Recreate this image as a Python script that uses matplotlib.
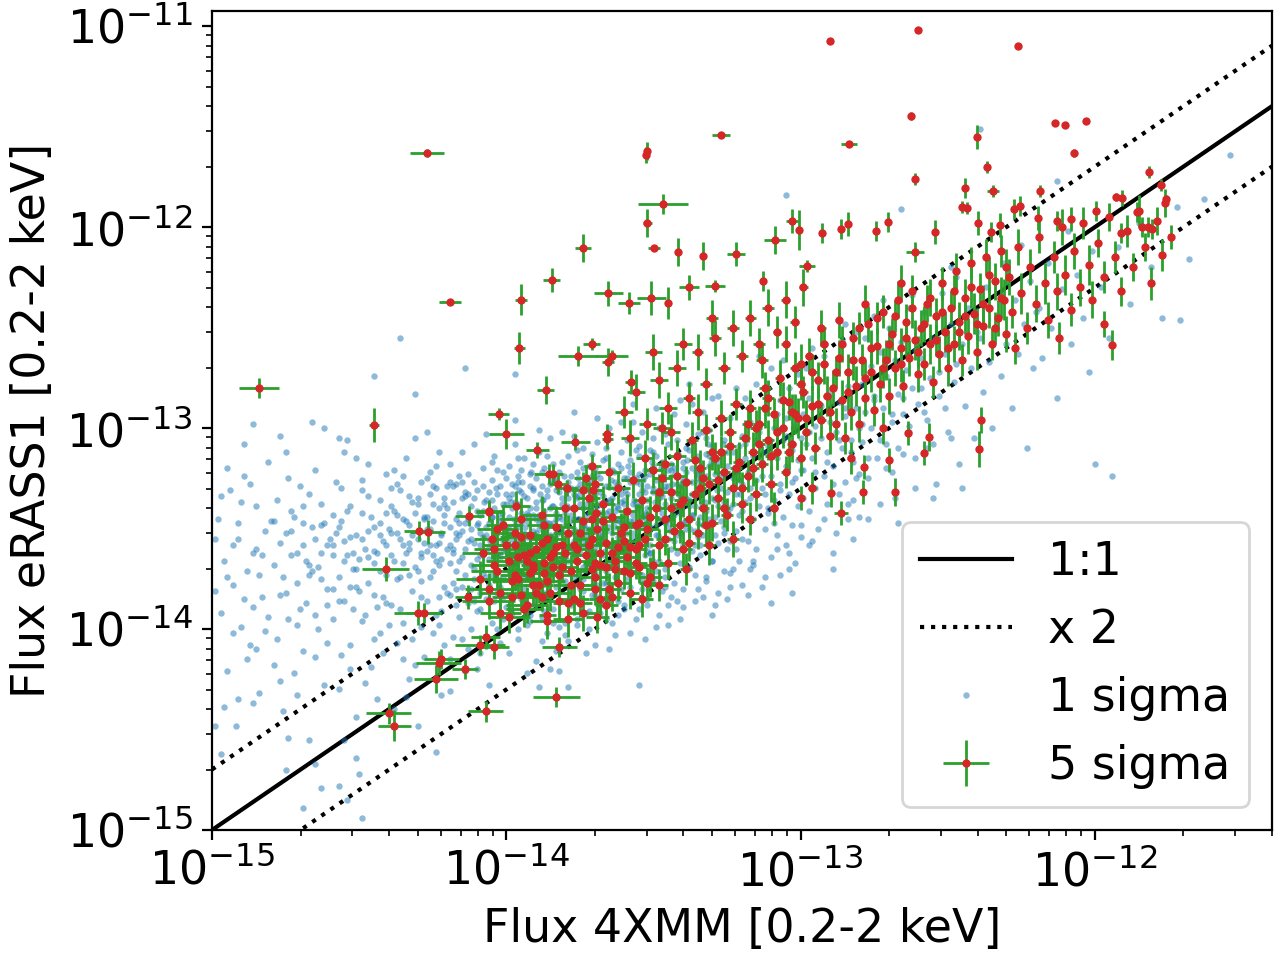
import numpy as np
import matplotlib
matplotlib.use("Agg")
import matplotlib.pyplot as plt

# ---------------- data (log10 flux values) ----------------
# 1 sigma sample: (log10 F_4XMM, log10 F_eRASS1)
blue_pts = [
(-14.98,-13.45),(-14.97,-13.92),(-14.96,-13.66),(-14.95,-14.21),(-14.94,-13.31),(-14.93,-13.78),(-14.92,-14.48),(-14.91,-13.55),(-14.90,-13.99),(-14.89,-13.24),
(-14.88,-13.71),(-14.87,-14.08),(-14.86,-13.62),(-14.85,-13.39),(-14.84,-14.32),(-14.83,-13.84),(-14.82,-13.51),(-14.81,-13.17),(-14.99,-13.81),(-14.97,-14.62),
(-14.93,-13.58),(-14.90,-13.37),(-14.88,-14.15),(-14.86,-13.89),(-14.84,-13.73),(-14.82,-14.01),(-14.80,-13.46),(-14.95,-13.20),(-14.91,-14.35),(-14.85,-13.60),
(-14.79,-13.68),(-14.78,-14.05),(-14.78,-13.36),(-14.77,-13.83),(-14.76,-14.41),(-14.75,-13.52),(-14.75,-13.12),(-14.74,-13.95),(-14.73,-13.63),(-14.72,-14.22),
(-14.72,-13.44),(-14.71,-13.77),(-14.70,-13.29),(-14.69,-14.11),(-14.69,-13.58),(-14.68,-13.87),(-14.67,-14.55),(-14.66,-13.49),(-14.66,-13.71),(-14.65,-13.21),
(-14.64,-14.00),(-14.63,-13.62),(-14.63,-13.38),(-14.62,-14.28),(-14.61,-13.80),(-14.60,-13.55),(-14.77,-13.57),(-14.74,-13.25),(-14.71,-14.33),(-14.68,-13.66),
(-14.65,-13.93),(-14.62,-13.47),(-14.79,-14.18),(-14.76,-13.74),(-14.73,-13.41),(-14.70,-13.90),(-14.67,-13.33),(-14.64,-13.69),(-14.61,-14.07),(-14.75,-14.70),
(-14.59,-13.58),(-14.59,-13.95),(-14.58,-13.27),(-14.57,-13.74),(-14.57,-14.30),(-14.56,-13.46),(-14.55,-13.86),(-14.55,-13.12),(-14.54,-13.63),(-14.53,-14.08),
(-14.53,-13.39),(-14.52,-13.70),(-14.51,-13.53),(-14.51,-14.44),(-14.50,-13.81),(-14.49,-13.31),(-14.49,-13.96),(-14.48,-13.60),(-14.47,-13.18),(-14.47,-13.77),
(-14.46,-14.19),(-14.45,-13.49),(-14.45,-13.67),(-14.44,-13.89),(-14.43,-13.36),(-14.43,-14.02),(-14.42,-13.56),(-14.41,-13.73),(-14.41,-13.23),(-14.40,-13.98),
(-14.58,-13.52),(-14.56,-14.13),(-14.54,-13.41),(-14.52,-13.90),(-14.50,-13.65),(-14.48,-14.27),(-14.46,-13.44),(-14.44,-13.62),(-14.42,-14.12),(-14.40,-13.50),
(-14.57,-13.05),(-14.53,-13.79),(-14.49,-13.55),(-14.45,-13.83),(-14.41,-13.42),(-14.55,-14.55),(-14.47,-13.34),(-14.43,-13.71),(-14.51,-13.15),(-14.59,-13.80),
(-14.44,-14.35),(-14.48,-13.93),(-14.52,-13.62),(-14.56,-13.30),(-14.42,-13.84),
(-14.39,-13.52),(-14.39,-13.88),(-14.38,-13.21),(-14.38,-13.66),(-14.37,-14.07),(-14.37,-13.43),(-14.36,-13.74),(-14.36,-13.31),(-14.35,-13.58),(-14.35,-13.97),
(-14.34,-13.15),(-14.34,-13.62),(-14.33,-14.25),(-14.33,-13.48),(-14.32,-13.81),(-14.32,-13.37),(-14.31,-13.69),(-14.31,-13.05),(-14.30,-13.55),(-14.30,-13.92),
(-14.29,-13.27),(-14.29,-13.76),(-14.28,-14.14),(-14.28,-13.44),(-14.27,-13.61),(-14.27,-13.86),(-14.26,-13.33),(-14.26,-13.50),(-14.25,-14.02),(-14.25,-13.71),
(-14.24,-13.19),(-14.24,-13.58),(-14.23,-13.84),(-14.23,-13.40),(-14.22,-13.65),(-14.22,-14.33),(-14.21,-13.47),(-14.21,-13.79),(-14.20,-13.29),(-14.20,-13.60),
(-14.39,-13.63),(-14.37,-13.28),(-14.36,-13.90),(-14.34,-13.46),(-14.33,-13.73),(-14.31,-14.18),(-14.30,-13.38),(-14.28,-13.57),(-14.27,-13.02),(-14.25,-13.46),
(-14.24,-13.93),(-14.22,-13.53),(-14.21,-13.35),(-14.38,-14.40),(-14.35,-13.67),(-14.32,-13.53),(-14.29,-13.99),(-14.26,-13.74),(-14.23,-13.12),(-14.20,-13.82),
(-14.38,-13.41),(-14.35,-13.24),(-14.32,-14.05),(-14.29,-13.64),(-14.26,-13.22),(-14.23,-13.68),(-14.21,-14.08),(-14.36,-13.55),(-14.33,-13.34),(-14.30,-13.71),
(-14.27,-13.44),(-14.24,-13.66),(-14.22,-13.91),(-14.30,-14.48),(-14.25,-13.38),
(-14.19,-13.49),(-14.19,-13.83),(-14.19,-13.18),(-14.18,-13.62),(-14.18,-14.04),(-14.18,-13.37),(-14.17,-13.71),(-14.17,-13.28),(-14.17,-13.55),(-14.16,-13.94),
(-14.16,-13.42),(-14.16,-13.66),(-14.15,-13.12),(-14.15,-13.79),(-14.15,-13.51),(-14.14,-14.21),(-14.14,-13.34),(-14.14,-13.60),(-14.13,-13.87),(-14.13,-13.45),
(-14.13,-13.23),(-14.12,-13.68),(-14.12,-14.00),(-14.12,-13.39),(-14.11,-13.57),(-14.11,-13.75),(-14.11,-13.08),(-14.10,-13.48),(-14.10,-13.91),(-14.10,-13.31),
(-14.09,-13.63),(-14.09,-14.12),(-14.09,-13.43),(-14.08,-13.72),(-14.08,-13.20),(-14.08,-13.54),(-14.07,-13.85),(-14.07,-13.36),(-14.07,-13.61),(-14.06,-14.28),
(-14.06,-13.47),(-14.06,-13.78),(-14.05,-13.26),(-14.05,-13.58),(-14.05,-13.97),(-14.04,-13.40),(-14.04,-13.67),(-14.04,-13.14),(-14.03,-13.52),(-14.03,-13.82),
(-14.03,-13.33),(-14.02,-13.64),(-14.02,-14.07),(-14.02,-13.44),(-14.01,-13.74),(-14.01,-13.22),(-14.01,-13.56),(-14.00,-13.89),(-14.00,-13.38),(-14.00,-13.61),
(-14.19,-13.58),(-14.18,-13.29),(-14.17,-13.88),(-14.16,-13.53),(-14.15,-13.35),(-14.14,-13.73),(-14.13,-14.10),(-14.12,-13.50),(-14.11,-13.27),(-14.10,-13.65),
(-14.09,-13.82),(-14.08,-13.41),(-14.07,-13.03),(-14.06,-13.59),(-14.05,-13.44),(-14.04,-13.86),(-14.03,-13.63),(-14.02,-13.29),(-14.01,-13.95),(-14.00,-13.50),
(-14.19,-14.15),(-14.17,-13.45),(-14.15,-13.64),(-14.13,-13.33),(-14.11,-13.86),(-14.09,-13.52),(-14.07,-13.74),(-14.05,-13.17),(-14.03,-13.71),(-14.01,-13.47),
(-14.18,-13.77),(-14.16,-13.24),(-14.14,-13.47),(-14.12,-13.80),(-14.10,-14.20),(-14.08,-13.63),(-14.06,-13.32),(-14.04,-13.55),(-14.02,-13.79),(-14.00,-13.25),
(-13.99,-13.44),(-13.99,-13.71),(-13.99,-13.19),(-13.98,-13.55),(-13.98,-13.92),(-13.98,-13.33),(-13.98,-13.62),(-13.97,-13.08),(-13.97,-13.48),(-13.97,-13.79),
(-13.96,-13.38),(-13.96,-13.58),(-13.96,-14.05),(-13.96,-13.27),(-13.95,-13.66),(-13.95,-13.42),(-13.95,-13.85),(-13.94,-13.15),(-13.94,-13.52),(-13.94,-13.74),
(-13.93,-13.35),(-13.93,-13.61),(-13.93,-13.98),(-13.93,-13.46),(-13.92,-13.23),(-13.92,-13.69),(-13.92,-13.54),(-13.91,-13.88),(-13.91,-13.31),(-13.91,-13.43),
(-13.90,-14.16),(-13.90,-13.63),(-13.90,-13.37),(-13.90,-13.77),(-13.89,-13.12),(-13.89,-13.50),(-13.89,-13.67),(-13.88,-13.94),(-13.88,-13.29),(-13.88,-13.57),
(-13.87,-13.41),(-13.87,-13.82),(-13.87,-13.20),(-13.87,-13.60),(-13.86,-14.02),(-13.86,-13.47),(-13.86,-13.34),(-13.85,-13.72),(-13.85,-13.05),(-13.85,-13.53),
(-13.84,-13.90),(-13.84,-13.39),(-13.84,-13.64),(-13.84,-13.26),(-13.83,-13.79),(-13.83,-13.45),(-13.83,-14.11),(-13.82,-13.58),(-13.82,-13.32),(-13.82,-13.70),
(-13.81,-13.17),(-13.81,-13.51),(-13.81,-13.86),(-13.80,-13.42),(-13.80,-13.62),(-13.80,-13.97),
(-13.99,-13.58),(-13.98,-13.28),(-13.97,-13.65),(-13.96,-13.49),(-13.95,-13.21),(-13.94,-13.86),(-13.93,-13.54),(-13.92,-13.40),(-13.91,-13.60),(-13.90,-13.25),
(-13.89,-13.83),(-13.88,-13.46),(-13.87,-13.68),(-13.86,-13.14),(-13.85,-13.40),(-13.84,-13.57),(-13.83,-13.31),(-13.82,-13.99),(-13.81,-13.64),(-13.80,-13.30),
(-13.99,-14.12),(-13.97,-13.37),(-13.95,-13.55),(-13.93,-13.73),(-13.91,-13.18),(-13.89,-13.43),(-13.87,-13.91),(-13.85,-13.62),(-13.83,-13.50),(-13.81,-13.38),
(-13.98,-13.75),(-13.96,-13.15),(-13.94,-13.44),(-13.92,-13.96),(-13.90,-13.52),(-13.88,-13.36),(-13.86,-13.76),(-13.84,-13.47),(-13.82,-13.22),(-13.80,-13.76),
(-13.97,-12.96),(-13.93,-14.22),(-13.89,-13.01),(-13.85,-14.20),(-13.81,-13.02),(-13.95,-13.32),(-13.91,-13.71),(-13.87,-13.52),(-13.83,-13.66),(-13.99,-13.35),
(-13.94,-13.63),(-13.86,-13.55),(-13.82,-13.44),(-13.90,-13.45),
(-13.79,-13.40),(-13.79,-13.66),(-13.79,-13.14),(-13.78,-13.52),(-13.78,-13.85),(-13.78,-13.30),(-13.78,-13.58),(-13.77,-13.04),(-13.77,-13.45),(-13.77,-13.74),
(-13.76,-13.35),(-13.76,-13.55),(-13.76,-13.98),(-13.76,-13.22),(-13.75,-13.62),(-13.75,-13.38),(-13.75,-13.80),(-13.74,-13.10),(-13.74,-13.48),(-13.74,-13.69),
(-13.73,-13.31),(-13.73,-13.57),(-13.73,-13.92),(-13.73,-13.43),(-13.72,-13.19),(-13.72,-13.64),(-13.72,-13.50),(-13.71,-13.83),(-13.71,-13.27),(-13.71,-13.39),
(-13.70,-14.08),(-13.70,-13.59),(-13.70,-13.33),(-13.70,-13.72),(-13.69,-13.07),(-13.69,-13.46),(-13.69,-13.62),(-13.68,-13.88),(-13.68,-13.25),(-13.68,-13.53),
(-13.67,-13.37),(-13.67,-13.77),(-13.67,-13.16),(-13.67,-13.56),(-13.66,-13.95),(-13.66,-13.42),(-13.66,-13.29),(-13.65,-13.67),(-13.65,-13.00),(-13.65,-13.49),
(-13.64,-13.84),(-13.64,-13.35),(-13.64,-13.60),(-13.64,-13.21),(-13.63,-13.74),(-13.63,-13.41),(-13.63,-14.03),(-13.62,-13.54),(-13.62,-13.28),(-13.62,-13.65),
(-13.61,-13.12),(-13.61,-13.47),(-13.61,-13.80),(-13.60,-13.38),(-13.60,-13.57),(-13.60,-13.90),
(-13.79,-13.53),(-13.78,-13.24),(-13.77,-13.61),(-13.76,-13.45),(-13.75,-13.17),(-13.74,-13.81),(-13.73,-13.50),(-13.72,-13.36),(-13.71,-13.56),(-13.70,-13.20),
(-13.69,-13.78),(-13.68,-13.42),(-13.67,-13.63),(-13.66,-13.10),(-13.65,-13.36),(-13.64,-13.52),(-13.63,-13.27),(-13.62,-13.93),(-13.61,-13.59),(-13.60,-13.25),
(-13.79,-14.06),(-13.77,-13.33),(-13.75,-13.51),(-13.73,-13.68),(-13.71,-13.13),(-13.69,-13.39),(-13.67,-13.86),(-13.65,-13.58),(-13.63,-13.46),(-13.61,-13.33),
(-13.78,-13.70),(-13.76,-13.11),(-13.74,-13.40),(-13.72,-13.91),(-13.70,-13.48),(-13.68,-13.32),(-13.66,-13.71),(-13.64,-13.43),(-13.62,-13.18),(-13.60,-13.71),
(-13.77,-12.92),(-13.73,-14.12),(-13.69,-12.95),(-13.65,-14.10),(-13.61,-12.97),(-13.75,-13.28),(-13.71,-13.66),(-13.67,-13.48),(-13.63,-13.62),(-13.79,-13.31),
(-13.74,-13.58),(-13.66,-13.51),(-13.62,-13.40),(-13.70,-13.41),
(-13.59,-13.33),(-13.59,-13.61),(-13.59,-13.06),(-13.58,-13.46),(-13.58,-13.79),(-13.58,-13.22),(-13.57,-13.52),(-13.57,-12.97),(-13.57,-13.38),(-13.56,-13.68),
(-13.56,-13.27),(-13.56,-13.49),(-13.55,-13.90),(-13.55,-13.14),(-13.55,-13.57),(-13.54,-13.31),(-13.54,-13.73),(-13.54,-13.02),(-13.53,-13.42),(-13.53,-13.63),
(-13.53,-13.24),(-13.52,-13.50),(-13.52,-13.85),(-13.52,-13.36),(-13.51,-13.11),(-13.51,-13.58),(-13.51,-13.44),(-13.50,-13.76),(-13.50,-13.19),(-13.50,-13.32),
(-13.49,-13.99),(-13.49,-13.53),(-13.49,-13.26),(-13.48,-13.66),(-13.48,-13.00),(-13.48,-13.40),(-13.47,-13.55),(-13.47,-13.81),(-13.47,-13.17),(-13.46,-13.47),
(-13.46,-13.29),(-13.46,-13.70),(-13.45,-13.08),(-13.45,-13.49),(-13.45,-13.88),(-13.44,-13.35),(-13.44,-13.21),(-13.44,-13.60),(-13.43,-12.93),(-13.43,-13.43),
(-13.43,-13.77),(-13.42,-13.28),(-13.42,-13.53),(-13.42,-13.13),(-13.41,-13.67),(-13.41,-13.34),(-13.41,-13.95),(-13.40,-13.47),(-13.40,-13.20),(-13.40,-13.58),
(-13.59,-13.47),(-13.58,-13.16),(-13.57,-13.55),(-13.56,-13.38),(-13.55,-13.09),(-13.54,-13.75),(-13.53,-13.43),(-13.52,-13.29),(-13.51,-13.49),(-13.50,-13.12),
(-13.49,-13.71),(-13.48,-13.35),(-13.47,-13.57),(-13.46,-13.03),(-13.45,-13.29),(-13.44,-13.45),(-13.43,-13.20),(-13.42,-13.86),(-13.41,-13.52),(-13.40,-13.17),
(-13.58,-14.02),(-13.56,-13.25),(-13.54,-13.44),(-13.52,-13.61),(-13.50,-13.05),(-13.48,-13.31),(-13.46,-13.79),(-13.44,-13.51),(-13.42,-13.39),(-13.40,-13.26),
(-13.57,-12.88),(-13.53,-14.05),(-13.49,-12.90),(-13.45,-13.98),(-13.41,-12.86),(-13.55,-13.23),(-13.51,-13.62),(-13.47,-13.42),(-13.43,-13.56),(-13.59,-13.75),
(-13.39,-13.22),(-13.39,-13.50),(-13.39,-12.98),(-13.38,-13.36),(-13.38,-13.69),(-13.38,-13.11),(-13.37,-13.43),(-13.37,-12.88),(-13.37,-13.27),(-13.36,-13.58),
(-13.36,-13.16),(-13.36,-13.39),(-13.35,-13.80),(-13.35,-13.03),(-13.35,-13.47),(-13.34,-13.21),(-13.34,-13.63),(-13.33,-12.92),(-13.33,-13.32),(-13.33,-13.53),
(-13.32,-13.13),(-13.32,-13.41),(-13.32,-13.74),(-13.31,-13.26),(-13.31,-13.01),(-13.31,-13.48),(-13.30,-13.35),(-13.30,-13.66),(-13.30,-13.09),(-13.29,-13.23),
(-13.29,-13.88),(-13.29,-13.44),(-13.28,-13.17),(-13.28,-13.57),(-13.28,-12.84),(-13.27,-13.30),(-13.27,-13.46),(-13.26,-13.71),(-13.26,-13.06),(-13.26,-13.37),
(-13.25,-13.19),(-13.25,-13.60),(-13.24,-12.95),(-13.24,-13.40),(-13.24,-13.79),(-13.23,-13.25),(-13.23,-13.12),(-13.22,-13.51),(-13.22,-12.80),(-13.22,-13.33),
(-13.21,-13.66),(-13.21,-13.18),(-13.21,-13.43),(-13.20,-13.04),(-13.20,-13.55),(-13.20,-13.28),
(-13.39,-13.35),(-13.37,-13.61),(-13.35,-13.25),(-13.33,-13.84),(-13.31,-13.14),(-13.29,-13.53),(-13.27,-12.96),(-13.25,-13.32),(-13.23,-13.70),(-13.21,-13.09),
(-13.38,-12.78),(-13.34,-13.44),(-13.30,-13.93),(-13.26,-13.49),(-13.22,-13.22),(-13.36,-13.73),(-13.32,-13.05),(-13.28,-13.39),(-13.24,-13.56),(-13.20,-13.41),
(-13.40,-13.89),(-13.25,-13.85),(-13.30,-12.85),(-13.35,-13.54),
(-13.19,-13.08),(-13.19,-13.37),(-13.19,-12.85),(-13.18,-13.22),(-13.18,-13.56),(-13.17,-12.97),(-13.17,-13.30),(-13.17,-13.70),(-13.16,-13.14),(-13.16,-13.45),
(-13.15,-12.78),(-13.15,-13.26),(-13.15,-13.60),(-13.14,-13.02),(-13.14,-13.39),(-13.13,-13.17),(-13.13,-13.79),(-13.12,-12.91),(-13.12,-13.33),(-13.12,-13.50),
(-13.11,-13.09),(-13.11,-13.42),(-13.10,-12.70),(-13.10,-13.24),(-13.10,-13.64),(-13.09,-13.00),(-13.09,-13.36),(-13.08,-13.15),(-13.08,-13.53),(-13.07,-12.86),
(-13.07,-13.28),(-13.07,-13.73),(-13.06,-13.06),(-13.06,-13.44),(-13.05,-12.95),(-13.05,-13.19),(-13.05,-13.58),(-13.04,-12.80),(-13.04,-13.33),(-13.03,-13.11),
(-13.03,-13.48),(-13.02,-12.99),(-13.02,-13.67),(-13.02,-13.25),(-13.01,-12.73),(-13.01,-13.39),(-13.00,-13.05),(-13.00,-13.54),(-13.00,-13.21),(-13.18,-13.83),
(-13.14,-12.64),(-13.10,-13.87),(-13.06,-12.66),(-13.03,-13.82),(-13.16,-13.68),(-13.12,-13.12),(-13.08,-12.93),(-13.04,-13.62),(-13.09,-13.47),(-13.13,-13.30),
(-12.99,-12.93),(-12.99,-13.21),(-12.98,-12.70),(-12.98,-13.08),(-12.97,-13.41),(-12.97,-12.85),(-12.96,-13.15),(-12.96,-12.60),(-12.95,-12.99),(-12.95,-13.30),
(-12.94,-12.77),(-12.94,-13.50),(-12.93,-13.05),(-12.93,-12.89),(-12.92,-13.24),(-12.92,-12.64),(-12.91,-13.12),(-12.91,-13.38),(-12.90,-12.82),(-12.90,-12.97),
(-12.89,-13.19),(-12.89,-13.62),(-12.88,-12.72),(-12.88,-13.02),(-12.87,-13.33),(-12.87,-12.87),(-12.86,-13.10),(-12.86,-12.56),(-12.85,-13.27),(-12.85,-12.94),
(-12.84,-13.45),(-12.84,-12.79),(-12.83,-13.06),(-12.83,-12.66),(-12.82,-13.17),(-12.82,-13.36),(-12.81,-12.90),(-12.81,-12.52),(-12.80,-13.00),(-12.80,-13.23),
(-12.97,-13.58),(-12.93,-12.50),(-12.89,-13.70),(-12.85,-12.48),(-12.82,-13.55),
(-12.79,-12.78),(-12.79,-13.07),(-12.78,-12.55),(-12.78,-12.92),(-12.77,-13.25),(-12.76,-12.69),(-12.76,-13.00),(-12.75,-12.44),(-12.75,-12.84),(-12.74,-13.15),
(-12.73,-12.62),(-12.73,-13.38),(-12.72,-12.90),(-12.71,-12.74),(-12.71,-13.08),(-12.70,-12.50),(-12.69,-12.97),(-12.69,-13.22),(-12.68,-12.66),(-12.67,-12.83),
(-12.67,-13.47),(-12.66,-12.57),(-12.65,-12.93),(-12.65,-13.13),(-12.64,-12.71),(-12.63,-12.40),(-12.63,-13.02),(-12.62,-12.80),(-12.61,-13.30),(-12.61,-12.61),
(-12.60,-12.88),(-12.77,-13.45),(-12.72,-12.36),(-12.68,-13.35),(-12.62,-12.34),
(-12.59,-12.65),(-12.58,-12.92),(-12.58,-12.42),(-12.57,-13.10),(-12.56,-12.75),(-12.55,-12.55),(-12.54,-13.28),(-12.53,-12.84),(-12.52,-12.33),(-12.51,-12.63),
(-12.50,-13.02),(-12.49,-12.48),(-12.48,-12.77),(-12.47,-12.25),(-12.46,-13.18),(-12.45,-12.58),(-12.44,-12.89),(-12.43,-12.40),(-12.42,-12.70),(-12.41,-13.05),
(-12.40,-12.52),(-12.55,-13.35),(-12.49,-12.20),(-12.45,-13.30),(-12.42,-12.18),
(-12.39,-12.55),(-12.38,-12.82),(-12.37,-12.30),(-12.36,-12.67),(-12.35,-13.00),(-12.33,-12.44),(-12.32,-12.74),(-12.31,-12.18),(-12.30,-12.58),(-12.28,-12.90),
(-12.27,-12.36),(-12.26,-12.63),(-12.25,-12.09),(-12.24,-12.48),(-12.23,-13.10),(-12.22,-12.27),(-12.21,-12.70),(-12.20,-12.42),
(-12.19,-12.40),(-12.18,-12.65),(-12.16,-12.18),(-12.15,-12.50),(-12.13,-12.85),(-12.11,-12.31),(-12.09,-12.02),(-12.08,-12.58),(-12.06,-12.24),(-12.04,-12.45),
(-12.02,-12.72),(-12.01,-12.12),
(-11.98,-12.30),(-11.95,-12.55),(-11.92,-12.10),(-11.88,-12.38),(-11.85,-11.98),(-11.81,-12.20),(-11.77,-12.45),(-11.72,-11.90),(-11.68,-12.16),(-11.63,-11.86),
# isolated 1 sigma points
(-11.54,-11.64),(-11.71,-12.46),(-12.39,-11.51),(-12.66,-11.91),(-12.13,-11.77),(-13.05,-11.84),(-12.00,-13.18),(-11.94,-13.24),
(-14.36,-12.55),(-14.45,-12.74),(-14.14,-12.70),(-13.97,-12.73),(-14.31,-12.83),(-14.66,-12.97),(-14.86,-12.98),(-14.89,-13.08),
(-14.77,-13.04),(-14.62,-13.00),(-14.54,-13.06),
(-14.49,-14.94),(-14.69,-14.89),(-14.63,-14.79),(-14.57,-14.78),(-14.54,-14.85),(-14.65,-14.67),(-14.51,-14.64),(-14.50,-14.72),
(-14.24,-14.61),(-14.74,-14.54),(-14.96,-14.39),(-14.86,-14.37),(-14.99,-14.48),
(-13.55,-14.28),(-13.89,-14.29),(-13.79,-14.29),(-14.19,-14.31),(-14.34,-14.34),(-13.82,-14.21),
]

# 1 sigma sample, dense core of the cloud
blue_core_pts = [
(-14.10,-13.41),(-14.09,-13.58),(-14.08,-13.29),(-14.07,-13.49),(-14.06,-13.65),(-14.05,-13.36),(-14.04,-13.52),(-14.03,-13.21),(-14.02,-13.46),(-14.01,-13.61),
(-14.00,-13.33),(-13.99,-13.50),(-13.98,-13.40),(-13.97,-13.57),(-13.96,-13.24),(-13.95,-13.47),(-13.94,-13.34),(-13.93,-13.59),(-13.92,-13.29),(-13.91,-13.51),
(-13.90,-13.40),(-13.89,-13.62),(-13.88,-13.22),(-13.87,-13.45),(-13.86,-13.31),(-13.85,-13.55),(-13.84,-13.18),(-13.83,-13.42),(-13.82,-13.66),(-13.81,-13.35),
(-13.80,-13.48),(-13.79,-13.27),(-13.78,-13.43),(-13.77,-13.56),(-13.76,-13.30),(-13.75,-13.45),(-13.74,-13.20),(-13.73,-13.38),(-13.72,-13.60),(-13.71,-13.32),
(-13.70,-13.44),(-13.69,-13.23),(-13.68,-13.50),(-13.67,-13.34),(-13.66,-13.15),(-13.65,-13.41),(-13.64,-13.57),(-13.63,-13.30),(-13.62,-13.45),(-13.61,-13.20),
(-13.60,-13.36),(-13.59,-13.52),(-13.58,-13.27),(-13.57,-13.43),(-13.56,-13.11),(-13.55,-13.33),(-13.54,-13.49),(-13.53,-13.21),(-13.52,-13.40),(-13.51,-13.62),
(-13.50,-13.30),(-13.49,-13.14),(-13.48,-13.45),(-13.47,-13.24),(-13.46,-13.38),(-13.45,-13.55),(-13.44,-13.18),(-13.43,-13.32),(-13.42,-13.06),(-13.41,-13.42),
(-13.40,-13.27),(-13.39,-13.10),(-13.38,-13.39),(-13.37,-13.20),(-13.36,-13.51),(-13.35,-13.14),(-13.34,-13.33),(-13.33,-13.02),(-13.32,-13.24),(-13.31,-13.45),
(-14.095,-13.47),(-14.075,-13.37),(-14.055,-13.56),(-14.035,-13.30),(-14.015,-13.42),(-13.995,-13.63),(-13.975,-13.45),(-13.955,-13.31),(-13.935,-13.49),(-13.915,-13.22),
(-13.895,-13.54),(-13.875,-13.36),(-13.855,-13.47),(-13.835,-13.26),(-13.815,-13.52),(-13.795,-13.39),(-13.775,-13.62),(-13.755,-13.25),(-13.735,-13.48),(-13.715,-13.41),
(-13.695,-13.29),(-13.675,-13.53),(-13.655,-13.37),(-13.635,-13.22),(-13.615,-13.46),(-13.595,-13.31),(-13.575,-13.58),(-13.555,-13.40),(-13.535,-13.26),(-13.515,-13.51),
(-13.495,-13.37),(-13.475,-13.20),(-13.455,-13.46),(-13.435,-13.28),(-13.415,-13.13),(-13.395,-13.36),(-13.375,-13.50),(-13.355,-13.22),(-13.335,-13.39),(-13.315,-13.08),
(-14.12,-13.55),(-14.14,-13.32),(-14.16,-13.47),(-14.18,-13.60),(-14.20,-13.40),(-14.22,-13.52),(-14.24,-13.30),(-14.26,-13.58),(-14.28,-13.45),(-14.30,-13.35),
(-14.11,-13.70),(-14.13,-13.44),(-14.15,-13.27),(-14.17,-13.52),(-14.19,-13.67),(-14.21,-13.38),(-14.23,-13.57),(-14.25,-13.29),(-14.27,-13.50),(-14.29,-13.62),
(-13.985,-13.37),(-13.965,-13.55),(-13.945,-13.27),(-13.925,-13.43),(-13.905,-13.60),(-13.885,-13.33),(-13.865,-13.50),(-13.845,-13.39),(-13.825,-13.58),(-13.805,-13.24),
(-13.785,-13.46),(-13.765,-13.34),(-13.745,-13.55),(-13.725,-13.27),(-13.705,-13.51),(-13.685,-13.38),(-13.665,-13.61),(-13.645,-13.26),(-13.625,-13.39),(-13.605,-13.53),
(-13.585,-13.19),(-13.565,-13.36),(-13.545,-13.28),(-13.525,-13.45),(-13.505,-13.17),(-13.485,-13.53),(-13.465,-13.31),(-13.445,-13.44),(-13.425,-13.23),(-13.405,-13.35),
(-13.385,-13.16),(-13.365,-13.43),(-13.345,-13.27),(-13.325,-13.37),(-13.305,-13.17),(-13.285,-13.31),(-13.265,-13.08),(-13.245,-13.42),(-13.225,-13.20),(-13.205,-13.33),
(-14.05,-13.44),(-14.03,-13.62),(-14.01,-13.38),(-13.99,-13.53),(-13.97,-13.29),(-13.95,-13.60),(-13.93,-13.42),(-13.91,-13.30),(-13.89,-13.47),(-13.87,-13.58),
(-13.85,-13.28),(-13.83,-13.53),(-13.81,-13.45),(-13.79,-13.35),(-13.77,-13.50),(-13.75,-13.33),(-13.73,-13.53),(-13.71,-13.24),(-13.69,-13.42),(-13.67,-13.56),
(-13.65,-13.29),(-13.63,-13.49),(-13.61,-13.37),(-13.59,-13.25),(-13.57,-13.46),(-13.55,-13.39),(-13.53,-13.32),(-13.51,-13.23),(-13.49,-13.48),(-13.47,-13.34),
(-13.45,-13.21),(-13.43,-13.40),(-13.41,-13.29),(-13.39,-13.46),(-13.37,-13.33),(-13.35,-13.23),(-13.33,-13.48),(-13.31,-13.19),(-13.29,-13.36),(-13.27,-13.24),
(-13.25,-13.12),(-13.23,-13.38),(-13.21,-13.26),(-13.19,-13.15),(-13.17,-13.35),(-13.15,-13.06),(-13.13,-13.24),(-13.11,-13.40),(-13.09,-13.13),(-13.07,-13.31),
(-13.05,-13.04),(-13.03,-13.27),(-13.01,-13.16),(-12.99,-13.35),(-12.97,-13.02),(-12.95,-13.22),(-12.93,-12.95),(-12.91,-13.17),(-12.89,-13.28),(-12.87,-13.06),
(-12.85,-12.90),(-12.83,-13.12),(-12.81,-13.25),(-12.79,-12.98),(-12.77,-13.15),(-12.75,-12.86),(-12.73,-13.06),(-12.71,-13.20),(-12.69,-12.93),(-12.67,-13.10),
(-12.65,-12.85),(-12.63,-12.99),(-12.61,-13.15),(-12.59,-12.80),(-12.57,-12.96),(-12.55,-13.08),(-12.53,-12.72),(-12.51,-12.90),(-12.49,-13.05),(-12.47,-12.68),
(-14.35,-13.45),(-14.33,-13.60),(-14.37,-13.52),(-14.39,-13.39),(-14.41,-13.58),(-14.43,-13.47),(-14.45,-13.61),(-14.47,-13.51),(-14.49,-13.42),(-14.51,-13.70),
(-14.53,-13.54),(-14.55,-13.66),(-14.57,-13.49),(-14.59,-13.63),(-14.61,-13.58),(-14.63,-13.75),(-14.65,-13.55),(-14.67,-13.68),(-14.69,-13.47),(-14.71,-13.62),
(-13.98,-13.70),(-13.94,-13.80),(-13.90,-13.71),(-13.86,-13.84),(-13.82,-13.76),(-13.78,-13.88),(-13.74,-13.75),(-13.70,-13.83),(-13.66,-13.77),(-13.62,-13.86),
(-13.58,-13.69),(-13.54,-13.80),(-13.50,-13.66),(-13.46,-13.74),(-13.42,-13.62),(-13.38,-13.70),(-13.34,-13.58),(-13.30,-13.66),(-13.26,-13.52),(-13.22,-13.60),
(-14.99,-13.55),(-14.97,-13.34),(-14.95,-13.74),(-14.93,-14.02),(-14.91,-13.47),(-14.89,-13.85),(-14.87,-13.28),(-14.85,-14.10),(-14.83,-13.63),(-14.81,-13.94),
(-14.79,-13.46),(-14.77,-14.26),(-14.75,-13.82),(-14.73,-13.51),(-14.71,-13.98),(-14.69,-13.39),(-14.67,-13.73),(-14.65,-14.14),(-14.63,-13.48),(-14.61,-13.88),
(-14.59,-13.43),(-14.57,-13.86),(-14.55,-13.56),(-14.53,-14.20),(-14.51,-13.79),(-14.49,-13.26),(-14.47,-13.64),(-14.45,-14.05),(-14.43,-13.53),(-14.41,-13.87),
(-14.39,-13.30),(-14.37,-13.75),(-14.35,-14.15),(-14.33,-13.57),(-14.31,-13.42),(-14.29,-13.84),(-14.27,-13.25),(-14.25,-13.63),(-14.23,-13.98),(-14.21,-13.43),
(-14.19,-13.27),(-14.17,-13.80),(-14.15,-14.05),(-14.13,-13.56),(-14.11,-13.35),(-14.09,-13.90),(-14.07,-13.53),(-14.05,-13.73),(-14.03,-14.00),(-14.01,-13.84),
(-13.96,-14.00),(-13.92,-13.93),(-13.88,-14.06),(-13.84,-13.97),(-13.80,-14.03),(-13.76,-13.95),(-13.72,-14.00),(-13.68,-13.92),(-13.64,-13.97),(-13.60,-13.88),
(-13.56,-13.95),(-13.52,-13.88),(-13.48,-13.93),(-13.44,-13.84),(-13.40,-13.80),(-13.36,-13.86),(-13.32,-13.76),(-13.28,-13.82),(-13.24,-13.72),(-13.20,-13.78),
(-13.16,-13.66),(-13.12,-13.74),(-13.08,-13.60),(-13.04,-13.70),(-13.00,-13.48),(-12.96,-13.56),(-12.92,-13.45),(-12.88,-13.52),(-12.84,-13.38),(-12.80,-13.44),
]

# 5 sigma sample: (log10 F_4XMM, log10 F_eRASS1, x error [dex], y error [dex])
green_pts = [
# isolated high sources
(-14.84,-12.80,0.068,0.05),(-14.27,-11.63,0.058,0.02),(-14.45,-12.985,0.017,0.085),(-14.19,-12.37,0.037,0.015),
(-13.95,-12.36,0.02,0.075),(-13.846,-12.264,0.03,0.06),(-13.52,-11.62,0.01,0.045),(-13.525,-11.64,0.01,0.04),
(-13.466,-11.886,0.085,0.05),(-13.27,-11.54,0.032,0.01),(-13.52,-11.98,0.015,0.07),(-13.738,-12.104,0.027,0.07),
(-13.653,-12.33,0.05,0.06),(-13.497,-12.104,0.02,0.01),(-13.415,-12.124,0.01,0.07),(-13.33,-12.144,0.01,0.07),
(-13.22,-12.134,0.03,0.06),(-13.086,-12.065,0.037,0.07),(-13.028,-11.97,0.02,0.06),(-13.005,-12.015,0.01,0.1),
(-12.927,-12.03,0.01,0.05),(-13.582,-12.378,0.037,0.055),(-13.507,-12.353,0.05,0.085),(-13.449,-12.378,0.01,0.08),
(-13.378,-12.30,0.034,0.06),(-13.29,-12.294,0.035,0.03),(-13.127,-12.27,0.01,0.05),
(-12.90,-11.075,0.004,0.004),(-12.601,-11.02,0.004,0.004),(-12.262,-11.10,0.004,0.004),(-12.625,-11.448,0.004,0.02),
(-12.835,-11.587,0.027,0.01),(-12.611,-11.761,0.004,0.03),(-12.40,-11.552,0.004,0.06),(-12.367,-11.701,0.004,0.03),
(-12.346,-11.821,0.02,0.03),(-12.187,-11.821,0.004,0.03),(-12.136,-11.483,0.004,0.004),(-12.102,-11.493,0.004,0.004),
(-12.031,-11.473,0.004,0.004),(-12.072,-11.632,0.004,0.02),(-12.452,-11.90,0.004,0.03),(-12.435,-11.905,0.004,0.03),
(-11.817,-11.726,0.004,0.03),(-11.776,-11.791,0.004,0.03),(-11.759,-11.861,0.004,0.02),(-11.929,-11.851,0.004,0.02),
(-12.978,-12.194,0.027,0.03),(-12.862,-12.01,0.01,0.05),(-12.838,-11.985,0.01,0.06),(-12.743,-12.02,0.01,0.05),
(-12.703,-11.975,0.01,0.05),(-12.611,-12.124,0.03,0.05),(-12.543,-12.025,0.01,0.06),(-12.441,-11.806,0.01,0.05),
(-12.397,-11.98,0.01,0.06),(-12.353,-12.025,0.01,0.05),(-12.323,-11.99,0.01,0.06),(-12.255,-11.895,0.01,0.05),
(-12.275,-11.91,0.01,0.05),(-12.194,-11.955,0.01,0.06),(-12.13,-11.97,0.01,0.05),(-12.08,-11.96,0.01,0.06),
(-11.997,-11.92,0.01,0.05),(-11.909,-11.856,0.004,0.04),(-11.855,-11.925,0.004,0.05),(-11.84,-12.0,0.004,0.05),
(-11.82,-12.0,0.004,0.05),(-11.807,-12.01,0.004,0.05),(-11.91,-12.03,0.004,0.05),
(-11.97,-12.483,0.004,0.065),(-11.943,-12.587,0.004,0.075),
(-12.387,-12.96,0.01,0.065),(-12.394,-13.104,0.01,0.09),(-12.564,-13.045,0.01,0.07),(-12.58,-13.124,0.01,0.06),
(-12.635,-13.025,0.01,0.06),(-12.699,-13.159,0.01,0.06),(-12.679,-13.318,0.01,0.07),(-12.784,-13.194,0.01,0.06),
(-12.787,-13.318,0.01,0.06),(-12.862,-13.423,0.024,0.06),(-12.896,-13.323,0.01,0.07),(-12.998,-13.348,0.01,0.06),
# low flux sources
(-14.41,-13.70,0.079,0.06),(-14.30,-13.92,0.08,0.06),(-14.28,-13.92,0.06,0.05),(-14.13,-13.84,0.045,0.06),
(-14.06,-13.86,0.09,0.09),(-14.07,-14.04,0.05,0.06),(-14.09,-14.08,0.085,0.05),(-14.04,-14.09,0.05,0.06),
(-14.22,-14.15,0.06,0.05),(-14.23,-14.17,0.075,0.06),(-14.14,-14.20,0.045,0.05),(-14.24,-14.25,0.075,0.07),
(-14.40,-14.42,0.075,0.05),(-14.38,-14.48,0.055,0.075),(-14.07,-14.41,0.06,0.05),(-13.83,-14.34,0.08,0.05),
(-13.82,-14.09,0.06,0.05),(-13.86,-13.93,0.03,0.04),(-13.95,-13.83,0.05,0.08),(-13.88,-13.84,0.04,0.07),
(-13.79,-13.87,0.05,0.08),(-13.75,-13.87,0.04,0.07),(-13.68,-13.85,0.04,0.08),(-13.64,-13.84,0.03,0.07),
(-13.97,-13.73,0.05,0.08),(-13.92,-13.72,0.05,0.07),(-13.91,-13.68,0.04,0.07),(-13.87,-13.72,0.05,0.07),
(-13.81,-13.69,0.05,0.08),(-13.70,-13.67,0.04,0.07),(-13.66,-13.69,0.04,0.07),(-13.56,-13.67,0.04,0.08),
(-14.125,-13.438,0.05,0.05),(-14.057,-13.418,0.045,0.05),(-14.298,-13.512,0.05,0.05),(-14.267,-13.517,0.06,0.06),
(-13.955,-12.60,0.02,0.08),(-13.71,-12.58,0.03,0.03),(-13.755,-12.64,0.068,0.05),(-13.64,-12.64,0.055,0.03),
(-13.653,-12.67,0.02,0.07),(-13.866,-12.81,0.03,0.07),(-14.026,-12.93,0.035,0.03),(-14.00,-13.03,0.06,0.075),
(-13.575,-12.77,0.02,0.06),(-13.894,-13.11,0.04,0.04),(-13.765,-13.07,0.05,0.04),(-13.656,-13.03,0.02,0.05),
(-13.656,-13.055,0.02,0.05),(-14.057,-13.41,0.045,0.05),(-13.968,-13.39,0.05,0.075),(-13.856,-13.23,0.05,0.05),
(-13.84,-13.23,0.03,0.05),(-13.823,-13.28,0.03,0.05),(-13.795,-13.30,0.04,0.04),(-13.73,-13.25,0.04,0.06),
(-13.707,-13.19,0.03,0.06),(-13.70,-13.28,0.03,0.07),(-13.704,-13.31,0.03,0.06),(-13.694,-13.42,0.03,0.08),
# main band
(-14.08,-13.62,0.07,0.09),(-14.06,-13.80,0.08,0.08),(-14.05,-13.55,0.06,0.10),(-14.03,-13.71,0.09,0.09),(-14.02,-13.92,0.07,0.08),
(-14.01,-13.48,0.06,0.09),(-13.99,-13.66,0.08,0.10),(-13.98,-13.84,0.07,0.08),(-13.97,-13.58,0.06,0.09),(-13.96,-13.75,0.08,0.09),
(-13.95,-13.45,0.07,0.10),(-13.94,-13.63,0.06,0.08),(-13.93,-13.88,0.07,0.09),(-13.92,-13.53,0.08,0.09),(-13.91,-13.70,0.06,0.10),
(-13.90,-13.60,0.07,0.08),(-13.89,-13.78,0.05,0.09),(-13.88,-13.43,0.07,0.09),(-13.87,-13.67,0.06,0.10),(-13.86,-13.55,0.06,0.08),
(-13.85,-13.82,0.07,0.09),(-13.84,-13.62,0.05,0.09),(-13.83,-13.49,0.06,0.10),(-13.82,-13.73,0.06,0.08),(-13.81,-13.58,0.05,0.09),
(-13.80,-13.40,0.06,0.09),(-14.09,-13.75,0.08,0.09),(-14.04,-13.60,0.07,0.09),(-13.97,-13.52,0.07,0.08),(-13.86,-13.96,0.06,0.09),
(-13.79,-13.52,0.05,0.09),(-13.78,-13.71,0.05,0.08),(-13.77,-13.40,0.05,0.09),(-13.76,-13.60,0.04,0.10),(-13.75,-13.78,0.05,0.08),
(-13.74,-13.46,0.04,0.09),(-13.73,-13.63,0.05,0.09),(-13.72,-13.35,0.04,0.08),(-13.71,-13.55,0.04,0.10),(-13.70,-13.74,0.05,0.09),
(-13.69,-13.50,0.04,0.08),(-13.68,-13.62,0.04,0.09),(-13.67,-13.38,0.04,0.09),(-13.66,-13.57,0.04,0.10),(-13.65,-13.80,0.04,0.08),
(-13.64,-13.44,0.04,0.09),(-13.63,-13.66,0.03,0.09),(-13.62,-13.30,0.04,0.08),(-13.61,-13.52,0.03,0.10),(-13.60,-13.71,0.04,0.09),
(-13.59,-13.41,0.03,0.08),(-13.58,-13.59,0.03,0.09),(-13.57,-13.26,0.04,0.09),(-13.56,-13.48,0.03,0.10),(-13.55,-13.69,0.03,0.08),
(-13.54,-13.36,0.03,0.09),(-13.53,-13.55,0.03,0.09),(-13.52,-13.77,0.03,0.08),(-13.51,-13.44,0.03,0.10),(-13.50,-13.21,0.03,0.09),
(-13.77,-13.85,0.05,0.08),(-13.74,-13.31,0.04,0.09),(-13.69,-13.94,0.04,0.08),(-13.65,-13.22,0.04,0.09),(-13.62,-13.59,0.04,0.10),
(-13.58,-13.82,0.03,0.08),(-13.55,-13.58,0.03,0.09),(-13.53,-13.15,0.03,0.09),(-13.71,-13.45,0.04,0.09),(-13.60,-13.49,0.03,0.09),
(-13.49,-13.40,0.03,0.09),(-13.48,-13.58,0.03,0.08),(-13.47,-13.25,0.03,0.09),(-13.46,-13.45,0.03,0.10),(-13.45,-13.67,0.03,0.08),
(-13.44,-13.32,0.03,0.09),(-13.43,-13.51,0.03,0.09),(-13.42,-13.14,0.03,0.08),(-13.41,-13.38,0.03,0.10),(-13.40,-13.60,0.03,0.09),
(-13.39,-13.27,0.02,0.08),(-13.38,-13.45,0.02,0.09),(-13.37,-13.06,0.02,0.09),(-13.36,-13.33,0.02,0.10),(-13.35,-13.52,0.02,0.08),
(-13.34,-13.20,0.02,0.09),(-13.33,-13.40,0.02,0.09),(-13.32,-13.01,0.02,0.08),(-13.31,-13.28,0.02,0.10),(-13.30,-13.47,0.02,0.09),
(-13.29,-13.15,0.02,0.08),(-13.28,-13.35,0.02,0.09),(-13.27,-12.95,0.02,0.09),(-13.26,-13.22,0.02,0.10),(-13.25,-13.43,0.02,0.08),
(-13.24,-13.09,0.02,0.09),(-13.23,-13.30,0.02,0.09),(-13.22,-12.88,0.02,0.08),(-13.21,-13.17,0.02,0.10),(-13.20,-13.38,0.02,0.09),
(-13.48,-13.78,0.03,0.08),(-13.44,-13.02,0.03,0.09),(-13.39,-13.70,0.02,0.08),(-13.35,-12.92,0.02,0.09),(-13.31,-13.58,0.02,0.10),
(-13.27,-13.12,0.02,0.08),(-13.23,-13.55,0.02,0.09),(-13.46,-13.18,0.03,0.09),(-13.33,-13.25,0.02,0.09),(-13.41,-13.48,0.03,0.09),
(-13.19,-13.05,0.02,0.09),(-13.18,-13.24,0.02,0.08),(-13.17,-12.90,0.02,0.09),(-13.16,-13.12,0.02,0.10),(-13.15,-13.33,0.02,0.08),
(-13.14,-12.98,0.02,0.09),(-13.13,-13.18,0.02,0.09),(-13.12,-12.80,0.02,0.08),(-13.11,-13.06,0.02,0.10),(-13.10,-13.28,0.02,0.09),
(-13.09,-12.93,0.015,0.08),(-13.08,-13.12,0.015,0.09),(-13.07,-12.75,0.015,0.09),(-13.06,-13.00,0.015,0.10),(-13.05,-13.22,0.015,0.08),
(-13.04,-12.87,0.015,0.09),(-13.03,-13.08,0.015,0.09),(-13.02,-12.70,0.015,0.08),(-13.01,-12.95,0.015,0.10),(-13.00,-13.15,0.015,0.09),
(-12.99,-12.82,0.015,0.08),(-12.98,-13.02,0.015,0.09),(-12.97,-12.64,0.015,0.09),(-12.96,-12.89,0.015,0.10),(-12.95,-13.10,0.015,0.08),
(-12.94,-12.76,0.015,0.09),(-12.93,-12.96,0.015,0.09),(-12.92,-12.58,0.015,0.08),(-12.91,-12.84,0.015,0.10),(-12.90,-13.04,0.015,0.09),
(-13.17,-13.45,0.02,0.08),(-13.13,-12.66,0.02,0.09),(-13.09,-13.40,0.015,0.08),(-13.05,-12.58,0.015,0.09),(-13.00,-12.68,0.015,0.10),
(-12.96,-13.30,0.015,0.08),(-12.93,-12.50,0.015,0.09),(-13.15,-13.00,0.02,0.09),(-13.03,-12.92,0.015,0.09),(-13.11,-12.85,0.02,0.09),
(-12.89,-12.80,0.012,0.09),(-12.88,-12.98,0.012,0.08),(-12.87,-12.65,0.012,0.09),(-12.86,-12.86,0.012,0.10),(-12.85,-13.05,0.012,0.08),
(-12.84,-12.72,0.012,0.09),(-12.83,-12.92,0.012,0.09),(-12.82,-12.55,0.012,0.08),(-12.81,-12.79,0.012,0.10),(-12.80,-12.98,0.012,0.09),
(-12.79,-12.66,0.01,0.08),(-12.78,-12.85,0.01,0.09),(-12.77,-12.48,0.01,0.09),(-12.76,-12.72,0.01,0.10),(-12.75,-12.91,0.01,0.08),
(-12.74,-12.59,0.01,0.09),(-12.73,-12.78,0.01,0.09),(-12.72,-12.42,0.01,0.08),(-12.71,-12.66,0.01,0.10),(-12.70,-12.84,0.01,0.09),
(-12.69,-12.53,0.01,0.08),(-12.68,-12.70,0.01,0.09),(-12.67,-12.36,0.01,0.09),(-12.66,-12.60,0.01,0.10),(-12.65,-12.79,0.01,0.08),
(-12.64,-12.47,0.01,0.09),(-12.63,-12.65,0.01,0.09),(-12.62,-12.32,0.01,0.08),(-12.61,-12.56,0.01,0.10),(-12.60,-12.73,0.01,0.09),
(-12.87,-12.46,0.012,0.09),(-12.83,-13.15,0.012,0.08),(-12.78,-12.38,0.01,0.09),(-12.72,-13.00,0.01,0.08),(-12.66,-12.28,0.01,0.09),
(-12.59,-12.50,0.01,0.09),(-12.58,-12.68,0.01,0.08),(-12.57,-12.38,0.01,0.09),(-12.56,-12.58,0.01,0.10),(-12.55,-12.77,0.01,0.08),
(-12.54,-12.44,0.01,0.09),(-12.53,-12.63,0.01,0.09),(-12.52,-12.28,0.01,0.08),(-12.51,-12.52,0.01,0.10),(-12.50,-12.70,0.01,0.09),
(-12.49,-12.40,0.01,0.08),(-12.48,-12.58,0.01,0.09),(-12.47,-12.22,0.01,0.09),(-12.46,-12.47,0.01,0.10),(-12.45,-12.66,0.01,0.08),
(-12.44,-12.35,0.01,0.09),(-12.43,-12.54,0.01,0.09),(-12.42,-12.18,0.01,0.08),(-12.41,-12.43,0.01,0.10),(-12.40,-12.62,0.01,0.09),
(-12.39,-12.31,0.01,0.08),(-12.38,-12.49,0.01,0.09),(-12.37,-12.15,0.01,0.09),(-12.36,-12.40,0.01,0.10),(-12.35,-12.58,0.01,0.08),
(-12.34,-12.27,0.01,0.09),(-12.33,-12.45,0.01,0.09),(-12.32,-12.12,0.01,0.08),(-12.31,-12.36,0.01,0.10),(-12.30,-12.53,0.01,0.09),
(-12.29,-12.25,0.008,0.09),(-12.28,-12.42,0.008,0.08),(-12.26,-12.10,0.008,0.09),(-12.25,-12.33,0.008,0.10),(-12.23,-12.50,0.008,0.08),
(-12.22,-12.20,0.008,0.09),(-12.20,-12.38,0.008,0.09),(-12.19,-12.05,0.008,0.08),(-12.17,-12.28,0.008,0.10),(-12.16,-12.46,0.008,0.09),
(-12.14,-12.15,0.008,0.08),(-12.13,-12.32,0.008,0.09),(-12.11,-12.00,0.008,0.09),(-12.10,-12.24,0.008,0.10),(-12.08,-12.41,0.008,0.08),
(-12.07,-12.12,0.008,0.09),(-12.05,-12.30,0.008,0.09),(-12.04,-11.98,0.008,0.08),(-12.02,-12.19,0.008,0.10),(-12.01,-12.36,0.008,0.09),
(-12.27,-12.60,0.008,0.08),(-12.12,-12.55,0.008,0.08),
(-11.99,-12.08,0.008,0.07),(-11.97,-12.25,0.008,0.08),(-11.95,-11.95,0.008,0.07),(-11.93,-12.15,0.008,0.08),(-11.91,-12.32,0.008,0.07),
(-11.89,-12.02,0.008,0.08),(-11.87,-12.20,0.008,0.07),(-11.85,-11.92,0.008,0.08),(-11.83,-12.10,0.008,0.07),(-11.81,-12.28,0.008,0.08),
(-11.79,-11.97,0.008,0.07),(-11.77,-12.14,0.008,0.08),(-11.76,-11.88,0.008,0.07),(-11.74,-12.05,0.008,0.06),
]

# 5 sigma sample, additional crowded band sources (same columns)
green_extra_pts = [
(-14.04,-13.68,0.08,0.09),(-14.02,-13.82,0.07,0.08),(-14.00,-13.58,0.08,0.09),(-13.98,-13.76,0.07,0.10),(-13.96,-13.64,0.07,0.08),
(-13.94,-13.90,0.06,0.09),(-13.92,-13.62,0.07,0.09),(-13.90,-13.82,0.06,0.08),(-13.88,-13.57,0.07,0.10),(-13.86,-13.76,0.06,0.09),
(-13.84,-13.69,0.06,0.08),(-13.82,-13.86,0.06,0.09),(-13.80,-13.62,0.05,0.09),(-13.78,-13.78,0.06,0.10),(-13.76,-13.66,0.05,0.08),
(-13.74,-13.92,0.05,0.09),(-13.72,-13.58,0.05,0.09),(-13.70,-13.80,0.05,0.08),(-13.68,-13.68,0.05,0.10),(-13.66,-13.88,0.04,0.09),
(-13.64,-13.62,0.05,0.08),(-13.62,-13.77,0.04,0.09),(-13.60,-13.56,0.04,0.09),(-13.58,-13.72,0.04,0.10),(-13.56,-13.60,0.04,0.08),
(-13.54,-13.85,0.04,0.09),(-13.52,-13.50,0.04,0.09),(-13.50,-13.68,0.04,0.08),(-14.03,-13.50,0.07,0.09),(-13.99,-13.94,0.07,0.08),
(-13.95,-13.54,0.07,0.09),(-13.91,-13.78,0.06,0.10),(-13.87,-13.48,0.06,0.08),(-13.83,-13.59,0.06,0.09),(-13.79,-13.95,0.05,0.09),
(-13.75,-13.52,0.05,0.08),(-13.71,-13.70,0.05,0.10),(-13.67,-13.46,0.05,0.09),(-13.63,-13.70,0.04,0.08),(-13.59,-13.64,0.04,0.09),
(-13.55,-13.47,0.04,0.09),(-13.51,-13.74,0.04,0.10),(-13.93,-13.66,0.06,0.09),(-13.85,-13.64,0.06,0.09),(-13.77,-13.58,0.05,0.09),
(-13.48,-13.32,0.03,0.09),(-13.46,-13.55,0.03,0.08),(-13.44,-13.40,0.03,0.09),(-13.42,-13.24,0.03,0.10),(-13.40,-13.36,0.03,0.08),
(-13.38,-13.57,0.02,0.09),(-13.36,-13.16,0.02,0.09),(-13.34,-13.30,0.02,0.08),(-13.32,-13.48,0.02,0.10),(-13.30,-13.12,0.02,0.09),
(-13.28,-13.26,0.02,0.08),(-13.26,-13.40,0.02,0.09),(-13.24,-13.02,0.02,0.09),(-13.22,-13.20,0.02,0.10),(-13.20,-13.30,0.02,0.08),
(-13.18,-12.98,0.02,0.09),(-13.16,-13.20,0.02,0.09),(-13.14,-13.08,0.02,0.08),(-13.12,-12.90,0.02,0.10),(-13.10,-13.14,0.02,0.09),
(-13.08,-13.02,0.015,0.08),(-13.06,-12.86,0.015,0.09),(-13.04,-13.12,0.015,0.09),(-13.02,-12.93,0.015,0.10),(-13.00,-12.78,0.015,0.08),
(-12.98,-12.95,0.015,0.09),(-12.96,-12.72,0.015,0.09),(-12.94,-12.88,0.015,0.08),(-12.92,-12.68,0.015,0.10),(-12.90,-12.92,0.015,0.09),
(-12.88,-12.72,0.012,0.08),(-12.86,-12.58,0.012,0.09),(-12.84,-12.82,0.012,0.09),(-12.82,-12.66,0.012,0.10),(-12.80,-12.50,0.012,0.08),
(-12.78,-12.75,0.01,0.09),(-12.76,-12.60,0.01,0.09),(-12.74,-12.45,0.01,0.08),(-12.72,-12.70,0.01,0.10),(-12.70,-12.58,0.01,0.09),
(-12.68,-12.44,0.01,0.08),(-12.66,-12.68,0.01,0.09),(-12.64,-12.55,0.01,0.09),(-12.62,-12.40,0.01,0.10),(-12.60,-12.62,0.01,0.08),
(-12.58,-12.48,0.01,0.09),(-12.56,-12.35,0.01,0.09),(-12.54,-12.56,0.01,0.08),(-12.52,-12.42,0.01,0.10),(-12.50,-12.60,0.01,0.09),
(-12.48,-12.32,0.01,0.08),(-12.46,-12.52,0.01,0.09),(-12.44,-12.44,0.01,0.09),(-12.42,-12.30,0.01,0.10),(-12.40,-12.48,0.01,0.08),
(-12.38,-12.38,0.01,0.09),(-12.36,-12.24,0.01,0.09),(-12.34,-12.50,0.01,0.08),(-12.32,-12.35,0.01,0.10),(-12.30,-12.20,0.01,0.09),
(-13.60,-12.92,0.03,0.08),(-13.56,-12.82,0.03,0.09),(-13.52,-12.98,0.03,0.08),(-13.48,-12.76,0.03,0.09),(-13.45,-12.90,0.03,0.08),
(-13.42,-12.70,0.03,0.09),(-13.38,-12.85,0.02,0.08),(-13.35,-12.62,0.02,0.09),(-13.32,-12.78,0.02,0.08),(-13.29,-12.55,0.02,0.09),
(-13.26,-12.70,0.02,0.08),(-13.23,-12.50,0.02,0.09),(-13.20,-12.64,0.02,0.08),(-13.17,-12.45,0.02,0.09),(-13.14,-12.58,0.02,0.08),
(-13.11,-12.40,0.02,0.09),(-13.08,-12.52,0.015,0.08),(-13.05,-12.36,0.015,0.09),(-13.02,-12.47,0.015,0.08),(-12.99,-12.30,0.015,0.09),
(-13.50,-12.62,0.03,0.09),(-13.40,-12.58,0.03,0.08),(-13.30,-12.45,0.02,0.09),(-13.58,-13.05,0.03,0.09),(-13.47,-13.00,0.03,0.08),
]

line_range = [1e-15, 4e-12]
x_label = "Flux 4XMM [0.2-2 keV]"
y_label = "Flux eRASS1 [0.2-2 keV]"
legend_labels = ["1:1", "x 2", "1 sigma", "5 sigma"]

# ---------------- plotting ----------------
plt.rcParams['font.family'] = ['DejaVu Sans']
plt.rcParams['font.size'] = 16.5

fig = plt.figure(figsize=(6.4, 4.8), dpi=200)
ax = fig.add_axes([0.1656, 0.1354, 0.8281, 0.8531])

xx = np.array(line_range)
ax.plot(xx, xx, color='black', ls='-', lw=1.5, label=legend_labels[0])
ax.plot(xx, 2 * xx, color='black', ls=':', lw=1.5, label=legend_labels[1])
ax.plot(xx, xx / 2, color='black', ls=':', lw=1.5)

b = np.array(blue_pts + blue_core_pts)
ax.plot(10 ** b[:, 0], 10 ** b[:, 1], 'o', color='tab:blue', ms=2.3, mew=0,
        alpha=0.5, label=legend_labels[2])

g = np.array(green_pts + green_extra_pts)
gx = 10 ** g[:, 0]
gy = 10 ** g[:, 1]
xerr = np.vstack([gx - 10 ** (g[:, 0] - g[:, 2]), 10 ** (g[:, 0] + g[:, 2]) - gx])
yerr = np.vstack([gy - 10 ** (g[:, 1] - g[:, 3]), 10 ** (g[:, 1] + g[:, 3]) - gy])
ax.errorbar(gx, gy, xerr=xerr, yerr=yerr, fmt='o', color='tab:red', ms=3.0, mew=0,
            ecolor='tab:green', elinewidth=1.0, capsize=0, label=legend_labels[3])

ax.set_xscale('log')
ax.set_yscale('log')
ax.set_xlim(1e-15, 4e-12)
ax.set_ylim(1e-15, 1.19e-11)
ax.set_xlabel(x_label)
ax.set_ylabel(y_label)
ax.legend(loc='lower right')

fig.savefig('out.png', dpi=200)
